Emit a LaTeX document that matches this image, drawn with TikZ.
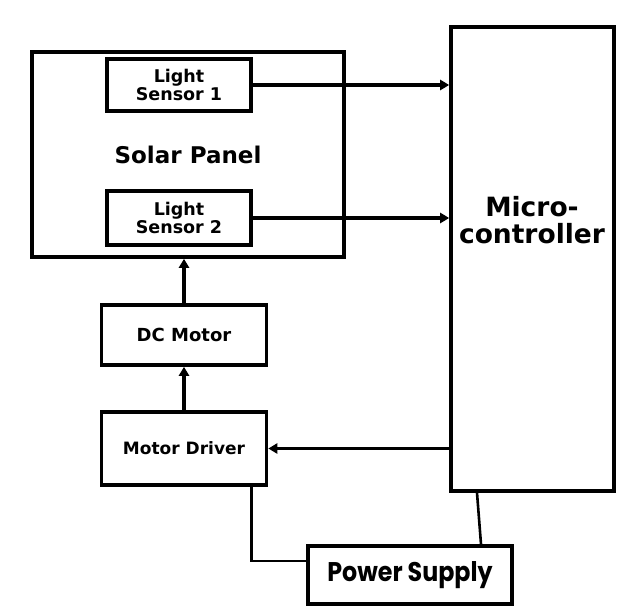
\documentclass[tikz,border=0pt]{standalone}
\usepackage{fontspec}
\newfontfamily\dvb{DejaVu Sans}[BoldFont={DejaVu Sans Bold}]
\newfontfamily\pop{Poppins}
\usetikzlibrary{arrows.meta}
\begin{document}
\begin{tikzpicture}[x=1pt,y=-1pt,
  box/.style={draw,line width=3.6pt,rectangle,inner sep=0pt,align=center,font=\dvb\bfseries},
  arr/.style={line width=3.4pt,-{Triangle[length=9pt,width=10pt]}},
  wire/.style={line width=2.6pt}]
\useasboundingbox[fill=white] (0,0) rectangle (631,607);
\node[box,minimum width=312pt,minimum height=205pt,font=\dvb\bfseries\fontsize{23}{24}\selectfont] (panel) at (188,154.5) {Solar Panel};
\node[box,minimum width=144pt,minimum height=52pt,font=\dvb\bfseries\fontsize{17.5}{18}\selectfont] (ls1) at (179,85) {Light\\Sensor 1};
\node[box,minimum width=144pt,minimum height=54pt,font=\dvb\bfseries\fontsize{17.5}{18}\selectfont] (ls2) at (179,218) {Light\\Sensor 2};
\node[box,minimum width=163pt,minimum height=464pt] (micro) at (532.5,259) {};
\node[font=\dvb\bfseries\fontsize{26.5}{27}\selectfont,align=center] (mtext) at (532,220) {Micro-\\controller};
\node[box,minimum width=165pt,minimum height=60pt,font=\dvb\bfseries\fontsize{18}{20}\selectfont] (dc) at (184,335) {DC Motor};
\node[box,minimum width=165pt,minimum height=73pt,font=\dvb\bfseries\fontsize{17}{20}\selectfont] (drv) at (184,448.5) {Motor Driver};
\node[box,minimum width=204pt,minimum height=58pt,font=\pop\bfseries\fontsize{27}{28}\selectfont] (ps) at (410,575) {\scalebox{0.88}[1]{Power Supply}};
\draw[arr] (ls1.east) -- (ls1.east -| micro.west);
\draw[arr] (ls2.east) -- (ls2.east -| micro.west);
\draw[arr] (dc.north) -- (dc.north |- panel.south);
\draw[arr] (drv.north) -- (dc.south);
\draw[arr] (micro.west |- drv.east) -- (drv.east);
\draw[wire] ([xshift=-17pt]drv.south east) |- ([yshift=14pt]ps.west);
\draw[wire] ([xshift=-55.5pt]micro.south) -- ([xshift=71pt]ps.north);
\end{tikzpicture}
\end{document}
